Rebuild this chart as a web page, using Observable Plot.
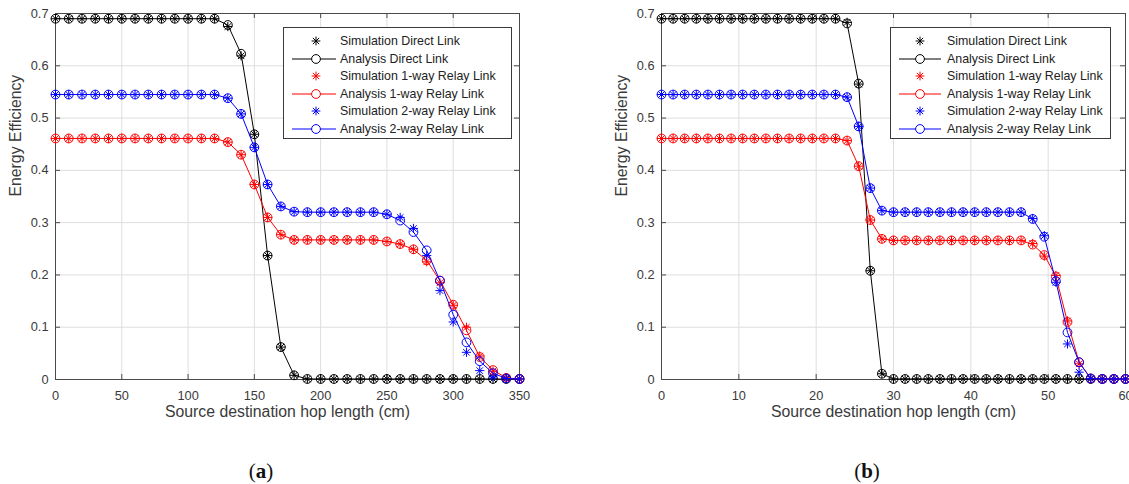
<!DOCTYPE html>
<html><head><meta charset="utf-8">
<script src="https://cdn.jsdelivr.net/npm/d3@7"></script>
<script src="https://cdn.jsdelivr.net/npm/@observablehq/plot@0.6"></script>
<style>
body{margin:0;background:#fff;width:1129px;height:484px;overflow:hidden;position:relative;font-family:"Liberation Sans",Arial,sans-serif;}
.panel{position:absolute;top:0;}
.legend{position:absolute;border:1px solid #3a3a3a;background:#fff;box-sizing:border-box;}
.row{position:absolute;left:0;height:18px;width:100%;}
.row svg{position:absolute;left:0;top:0;}
.row span{position:absolute;top:1px;font-size:12.4px;color:#222;white-space:nowrap;line-height:16px;}
.caption{position:absolute;font-family:"Liberation Serif","DejaVu Serif",serif;font-size:21px;color:#111;transform:translate(-50%,-50%);}
</style></head><body>
<script>
// ---------- data ----------
const yTicks = [0, 0.1, 0.2, 0.3, 0.4, 0.5, 0.6, 0.7];
const xTicksA = [0, 50, 100, 150, 200, 250, 300, 350];
const xTicksB = [0, 10, 20, 30, 40, 50, 60];
const seriesNames = ["Simulation Direct Link","Analysis Direct Link","Simulation 1-way Relay Link","Analysis 1-way Relay Link","Simulation 2-way Relay Link","Analysis 2-way Relay Link"];
const seriesColors = ["#000000","#000000","#ff0000","#ff0000","#0000ff","#0000ff"];

// panel (a)
const xA = [0,10,20,30,40,50,60,70,80,90,100,110,120,130,140,150,160,170,180,190,200,210,220,230,240,250,260,270,280,290,300,310,320,330,340,350];
const directSimA = [0.690,0.690,0.690,0.690,0.690,0.690,0.690,0.690,0.690,0.690,0.690,0.690,0.690,0.675,0.619,0.469,0.237,0.062,0.008,0.001,0.001,0.001,0.001,0.001,0.001,0.001,0.001,0.001,0.001,0.001,0.001,0.001,0.001,0.001,0.001,0.001];
const directAnaA = [0.690,0.690,0.690,0.690,0.690,0.690,0.690,0.690,0.690,0.690,0.690,0.690,0.690,0.678,0.623,0.469,0.237,0.062,0.008,0.001,0.001,0.001,0.001,0.001,0.001,0.001,0.001,0.001,0.001,0.001,0.001,0.001,0.001,0.001,0.001,0.001];
const oneSimA = [0.461,0.461,0.461,0.461,0.461,0.461,0.461,0.461,0.461,0.461,0.461,0.461,0.461,0.454,0.430,0.373,0.310,0.277,0.267,0.267,0.267,0.267,0.267,0.267,0.267,0.264,0.259,0.249,0.225,0.185,0.142,0.100,0.045,0.016,0.003,0.001];
const oneAnaA = [0.461,0.461,0.461,0.461,0.461,0.461,0.461,0.461,0.461,0.461,0.461,0.461,0.461,0.454,0.430,0.373,0.310,0.277,0.267,0.267,0.267,0.267,0.267,0.267,0.267,0.264,0.259,0.249,0.228,0.189,0.143,0.094,0.043,0.018,0.003,0.001];
const twoSimA = [0.545,0.545,0.545,0.545,0.545,0.545,0.545,0.545,0.545,0.545,0.545,0.545,0.545,0.538,0.508,0.444,0.373,0.331,0.321,0.320,0.320,0.320,0.320,0.320,0.320,0.316,0.310,0.289,0.237,0.170,0.110,0.052,0.017,0.005,0.002,0.001];
const twoAnaA = [0.545,0.545,0.545,0.545,0.545,0.545,0.545,0.545,0.545,0.545,0.545,0.545,0.545,0.538,0.508,0.444,0.373,0.331,0.321,0.320,0.320,0.320,0.320,0.320,0.320,0.316,0.304,0.282,0.247,0.189,0.124,0.071,0.035,0.012,0.002,0.001];

// panel (b)
const xB = [0,1.5,3,4.5,6,7.5,9,10.5,12,13.5,15,16.5,18,19.5,21,22.5,24,25.5,27,28.5,30,31.5,33,34.5,36,37.5,39,40.5,42,43.5,45,46.5,48,49.5,51,52.5,54,55.5,57,58.5,60];
const directSimB = [0.690,0.690,0.690,0.690,0.690,0.690,0.690,0.690,0.690,0.690,0.690,0.690,0.690,0.690,0.690,0.690,0.683,0.565,0.208,0.011,0.001,0.001,0.001,0.001,0.001,0.001,0.001,0.001,0.001,0.001,0.001,0.001,0.001,0.001,0.001,0.001,0.001,0.001,0.001,0.001,0.001];
const directAnaB = [0.690,0.690,0.690,0.690,0.690,0.690,0.690,0.690,0.690,0.690,0.690,0.690,0.690,0.690,0.690,0.690,0.681,0.566,0.208,0.011,0.001,0.001,0.001,0.001,0.001,0.001,0.001,0.001,0.001,0.001,0.001,0.001,0.001,0.001,0.001,0.001,0.001,0.001,0.001,0.001,0.001];
const oneSimB = [0.461,0.461,0.461,0.461,0.461,0.461,0.461,0.461,0.461,0.461,0.461,0.461,0.461,0.461,0.461,0.461,0.457,0.408,0.305,0.269,0.266,0.266,0.266,0.266,0.266,0.266,0.266,0.266,0.266,0.266,0.266,0.266,0.260,0.236,0.199,0.112,0.030,0.002,0.001,0.001,0.001];
const oneAnaB = [0.461,0.461,0.461,0.461,0.461,0.461,0.461,0.461,0.461,0.461,0.461,0.461,0.461,0.461,0.461,0.461,0.457,0.408,0.305,0.269,0.266,0.266,0.266,0.266,0.266,0.266,0.266,0.266,0.266,0.266,0.266,0.266,0.258,0.238,0.197,0.110,0.033,0.002,0.001,0.001,0.001];
const twoSimB = [0.545,0.545,0.545,0.545,0.545,0.545,0.545,0.545,0.545,0.545,0.545,0.545,0.545,0.545,0.545,0.545,0.540,0.484,0.366,0.323,0.320,0.320,0.320,0.320,0.320,0.320,0.320,0.320,0.320,0.320,0.320,0.320,0.308,0.275,0.186,0.068,0.014,0.002,0.001,0.001,0.001];
const twoAnaB = [0.545,0.545,0.545,0.545,0.545,0.545,0.545,0.545,0.545,0.545,0.545,0.545,0.545,0.545,0.545,0.545,0.540,0.484,0.366,0.323,0.320,0.320,0.320,0.320,0.320,0.320,0.320,0.320,0.320,0.320,0.320,0.320,0.307,0.273,0.188,0.090,0.033,0.002,0.001,0.001,0.001];

const xLabel = "Source destination hop length (cm)";
const yLabel = "Energy Efficiency";

// ---------- drawing ----------
const star = {draw(ctx, size){ const r = Math.sqrt(size/Math.PI);
  for (const a of [0,45,90,135]) { const t = a*Math.PI/180, dx = r*Math.cos(t), dy = r*Math.sin(t);
    ctx.moveTo(-dx,-dy); ctx.lineTo(dx,dy);} }};

const H = 430, MT = 13, MB = 51, ML = 55;
const fmt = d => String(+d.toFixed(1));

function makePanel({left, width, marginRight, x, xTicks, xDomain, sims, anas, legend, caption}) {
  const pw = width - ML - marginRight, ph = H - MT - MB;
  const marks = [
    Plot.gridX(xTicks, {stroke: "#dedede", strokeOpacity: 1}),
    Plot.gridY(yTicks, {stroke: "#dedede", strokeOpacity: 1}),
    Plot.ruleX(xTicks, {insetTop: ph - 5, stroke: "#4a4a4a"}),
    Plot.ruleX(xTicks, {insetBottom: ph - 5, stroke: "#4a4a4a"}),
    Plot.ruleY(yTicks, {insetLeft: pw - 5, stroke: "#4a4a4a"}),
    Plot.ruleY(yTicks, {insetRight: pw - 5, stroke: "#4a4a4a"}),
    Plot.frame({stroke: "#4a4a4a", strokeWidth: 1}),
    Plot.axisX({ticks: xTicks, tickSize: 0, tickPadding: 11, label: null, fontSize: 12.8}),
    Plot.axisY({ticks: yTicks, tickSize: 0, tickPadding: 7, tickFormat: fmt, label: null, fontSize: 12.8}),
    Plot.text([xLabel], {frameAnchor: "bottom", dy: 32, lineAnchor: "middle", fontSize: 15.8, fill: "#3a3a3a"}),
    Plot.text([yLabel], {frameAnchor: "left", dx: -40, rotate: -90, lineAnchor: "middle", fontSize: 15.8, fill: "#3a3a3a"})
  ];
  for (let k = 0; k < 3; k++) {
    const c = seriesColors[2*k+1];
    marks.push(Plot.dot(sims[k], {x, y: sims[k], symbol: star, r: 4.6, stroke: seriesColors[2*k], fill: "none", strokeWidth: 1}));
    marks.push(Plot.line(anas[k], {x, y: anas[k], stroke: c, strokeWidth: 1}));
    marks.push(Plot.dot(anas[k], {x, y: anas[k], r: 4.4, stroke: c, fill: "none", strokeWidth: 1}));
  }
  const plot = Plot.plot({
    width, height: H, marginLeft: ML, marginRight, marginTop: MT, marginBottom: MB,
    style: {fontFamily: "'Liberation Sans', Arial, sans-serif", color: "#3a3a3a", background: "white", overflow: "visible"},
    x: {domain: xDomain}, y: {domain: [0, 0.7]},
    marks
  });
  const div = document.createElement("div");
  div.className = "panel"; div.style.left = left + "px";
  div.appendChild(plot);
  document.body.appendChild(div);

  // legend
  const lg = document.createElement("div");
  lg.className = "legend";
  Object.assign(lg.style, {left: legend.left + "px", top: "27px", width: legend.width + "px", height: "112px"});
  seriesNames.forEach((name, i) => {
    const row = document.createElement("div");
    row.className = "row"; row.style.top = (4 + i*17.6) + "px";
    const col = seriesColors[i];
    const isSim = i % 2 === 0;
    const m = legend.marker, r = 4.4;
    let svg = `<svg width="${legend.textX}" height="18">`;
    if (isSim) {
      for (const a of [0,45,90,135]) { const t = a*Math.PI/180, dx = r*Math.cos(t), dy = r*Math.sin(t);
        svg += `<line x1="${m-dx}" y1="${9-dy}" x2="${m+dx}" y2="${9+dy}" stroke="${col}" stroke-width="1"/>`; }
    } else {
      svg += `<line x1="${legend.lineX1}" y1="9" x2="${legend.lineX2}" y2="9" stroke="${col}" stroke-width="1"/>`;
      svg += `<circle cx="${m}" cy="9" r="${r}" fill="white" stroke="${col}" stroke-width="1"/>`;
    }
    svg += `</svg>`;
    row.innerHTML = svg + `<span style="left:${legend.textX}px">${name}</span>`;
    lg.appendChild(row);
  });
  div.appendChild(lg);

  const cap = document.createElement("div");
  cap.className = "caption";
  cap.innerHTML = caption;
  Object.assign(cap.style, {left: (left + ML + pw/2 - 26) + "px", top: "471px"});
  document.body.appendChild(cap);
}

makePanel({left: 0, width: 560, marginRight: 41, x: xA, xTicks: xTicksA, xDomain: [0, 350],
  sims: [directSimA, oneSimA, twoSimA], anas: [directAnaA, oneAnaA, twoAnaA],
  legend: {left: 283, width: 229, marker: 32, lineX1: 8, lineX2: 52, textX: 56}, caption: "(<b>a</b>)"});
makePanel({left: 606, width: 523, marginRight: 4, x: xB, xTicks: xTicksB, xDomain: [0, 60],
  sims: [directSimB, oneSimB, twoSimB], anas: [directAnaB, oneAnaB, twoAnaB],
  legend: {left: 284, width: 221, marker: 29, lineX1: 8, lineX2: 50, textX: 56}, caption: "(<b>b</b>)"});
</script>
</body></html>
